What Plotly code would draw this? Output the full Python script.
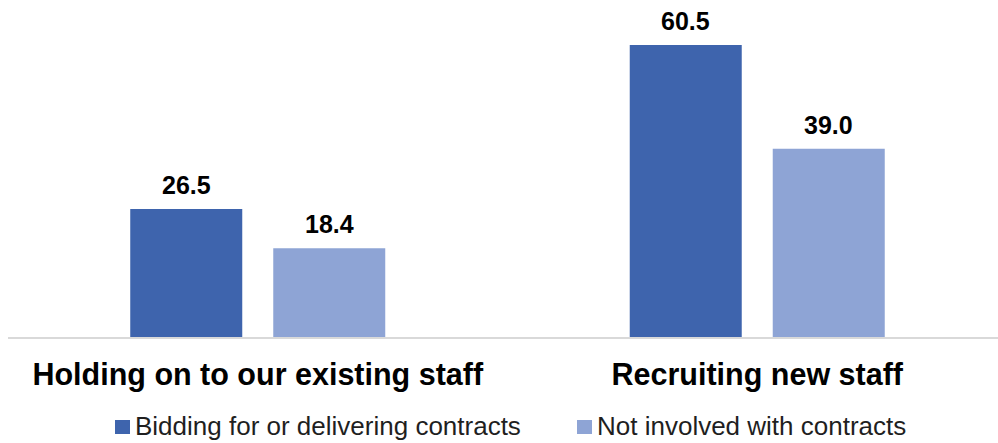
import plotly.graph_objects as go

# Chart data
categories = ["Holding on to our existing staff", "Recruiting new staff"]
series_names = ["Bidding for or delivering contracts", "Not involved with contracts"]
bidding = [26.5, 60.5]
not_involved = [18.4, 39.0]
series_values = [bidding, not_involved]
series_colors = ["#3E64AD", "#8EA4D5"]

# Canvas and layout geometry
W, H = 998, 443
M_L, M_R, M_T, M_B = 8, 0, 0, 106
BARGAP = 0.4274
GROUPGAP = 0.2168
Y_MAX = 69.83
X_RANGE = [-0.5, 1.482]
FONT = "Liberation Sans, Arial, sans-serif"

plot_w = W - M_L - M_R
plot_h = H - M_T - M_B


def px_to_paper_x(px):
    return (px - M_L) / plot_w


def px_to_paper_y(py):
    return (H - M_B - py) / plot_h


xpos = list(range(len(categories)))
n = len(series_values)

fig = go.Figure()
for name, vals, col in zip(series_names, series_values, series_colors):
    fig.add_trace(go.Bar(
        x=xpos, y=vals, name=name,
        marker=dict(color=col, line=dict(width=0)),
        showlegend=False, hoverinfo="skip",
    ))

annotations = []
# Value labels above each bar
for i, vals in enumerate(series_values):
    offset = (i - (n - 1) / 2) * (1 - BARGAP) / n
    for xi, v in zip(xpos, vals):
        annotations.append(dict(
            x=xi + offset, y=v, xref="x", yref="y",
            text=f"{v:.1f}", showarrow=False,
            yanchor="middle", xanchor="center", yshift=24,
            font=dict(family=FONT, size=25, color="#000000", weight="bold"),
        ))

# Legend drawn below the axis labels
legend_items = [(115, 133), (577, 595)]
shapes = []
for (sw_x, tx), name, col in zip(legend_items, series_names, series_colors):
    shapes.append(dict(
        type="rect", xref="paper", yref="paper",
        x0=px_to_paper_x(sw_x), x1=px_to_paper_x(sw_x + 15),
        y0=px_to_paper_y(434), y1=px_to_paper_y(420),
        fillcolor=col, line=dict(width=0),
    ))
    annotations.append(dict(
        x=px_to_paper_x(tx), y=px_to_paper_y(426), xref="paper", yref="paper",
        text=name, showarrow=False, xanchor="left", yanchor="middle",
        font=dict(family=FONT, size=26, color="#1F1F1F"),
    ))

fig.update_layout(
    width=W, height=H,
    margin=dict(l=M_L, r=M_R, t=M_T, b=M_B, pad=0),
    paper_bgcolor="white", plot_bgcolor="white",
    barmode="group", bargap=BARGAP, bargroupgap=GROUPGAP,
    showlegend=False,
    annotations=annotations, shapes=shapes,
    xaxis=dict(
        range=X_RANGE, tickmode="array", tickvals=xpos, ticktext=categories,
        showline=True, linecolor="#D9D9D9", linewidth=2,
        showgrid=False, zeroline=False, ticks="", ticklabelstandoff=9,
        tickfont=dict(family=FONT, size=30.5, color="#000000", weight="bold"),
        fixedrange=True,
    ),
    yaxis=dict(range=[0, Y_MAX], visible=False, fixedrange=True),
)

fig.write_html("out.html", config={"displayModeBar": False})
